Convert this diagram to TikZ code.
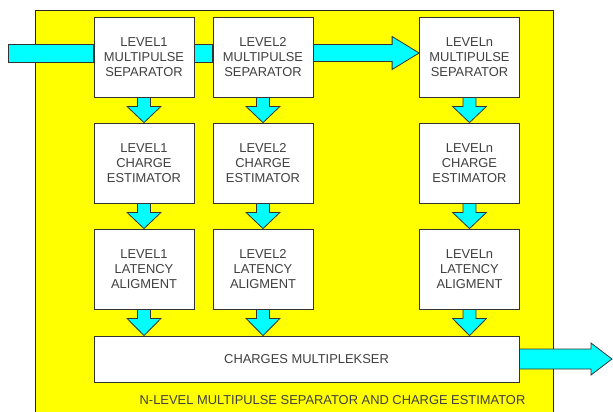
\documentclass[tikz,border=0pt]{standalone}
\usepackage{fontspec}
\setmainfont{Liberation Sans}
\usetikzlibrary{calc}
\definecolor{flowcyan}{RGB}{0,255,255}
\definecolor{boxyellow}{RGB}{255,255,0}
\newcommand\dnarrow[2]{%
  \draw[flow] ($(#1.south)+(-6.5,0)$) -- ($(#1.south)+(6.5,0)$) -- ($(#1.south)+(6.5,9)$)
    -- ($(#1.south)+(17,9)$) -- (#1.south |- #2.north) -- ($(#1.south)+(-17,9)$)
    -- ($(#1.south)+(-6.5,9)$) -- cycle;}
\begin{document}
\begin{tikzpicture}[x=1pt,y=-1pt,
  txt/.style={font=\fontsize{12.9}{15}\selectfont, text=black!75},
  blk/.style={txt, draw=black!80, fill=white, line width=0.8pt, minimum width=100pt,
    minimum height=80pt, align=center, inner sep=0pt},
  flow/.style={fill=flowcyan, draw=black!80, line width=0.8pt, line join=miter}]
\useasboundingbox (0,0) rectangle (613,412);
\draw[fill=boxyellow, draw=black!85, line width=0.8pt] (35,10) rectangle (553,420);

\node[blk] (m1) at (144,57) {LEVEL1\\MULTIPULSE\\SEPARATOR};
\node[blk] (m2) at (263,57) {LEVEL2\\MULTIPULSE\\SEPARATOR};
\node[blk] (mn) at (469.5,57) {LEVELn\\MULTIPULSE\\SEPARATOR};
\node[blk] (c1) at (144,163) {LEVEL1\\CHARGE\\ESTIMATOR};
\node[blk] (c2) at (263,163) {LEVEL2\\CHARGE\\ESTIMATOR};
\node[blk] (cn) at (469.5,163) {LEVELn\\CHARGE\\ESTIMATOR};
\node[blk] (a1) at (144,269) {LEVEL1\\LATENCY\\ALIGMENT};
\node[blk] (a2) at (263,269) {LEVEL2\\LATENCY\\ALIGMENT};
\node[blk] (an) at (469.5,269) {LEVELn\\LATENCY\\ALIGMENT};
\node[blk, minimum width=425pt, minimum height=46pt] (mux) at (306.5,359) {CHARGES MULTIPLEKSER};
\node[txt] (title) at (332.5,400) {N-LEVEL MULTIPULSE SEPARATOR AND CHARGE ESTIMATOR};

% input bar
\coordinate (in) at (8,53);
\draw[flow] ($(in)+(0,-9)$) rectangle ($(m1.west|-in)+(0,9)$);
\draw[flow] ($(m1.east|-in)+(0,-9)$) rectangle ($(m2.west|-in)+(0,9)$);
% arrow level2 -> leveln
\draw[flow] ($(m2.east|-in)+(0,-8.5)$) -- ($(mn.west|-in)+(-27,-8.5)$) -- ($(mn.west|-in)+(-27,-16.5)$)
  -- (mn.west|-in) -- ($(mn.west|-in)+(-27,16.5)$) -- ($(mn.west|-in)+(-27,8.5)$)
  -- ($(m2.east|-in)+(0,8.5)$) -- cycle;

% down arrows
\dnarrow{m1}{c1}\dnarrow{m2}{c2}\dnarrow{mn}{cn}
\dnarrow{c1}{a1}\dnarrow{c2}{a2}\dnarrow{cn}{an}
\dnarrow{a1}{mux}\dnarrow{a2}{mux}\dnarrow{an}{mux}

% output arrow
\coordinate (out) at (612,359);
\draw[flow] ($(mux.east)+(0,-10)$) -- ($(out)+(-21,-10)$) -- ($(out)+(-21,-16)$) -- (out)
  -- ($(out)+(-21,16)$) -- ($(out)+(-21,10)$) -- ($(mux.east)+(0,10)$) -- cycle;
\end{tikzpicture}
\end{document}
